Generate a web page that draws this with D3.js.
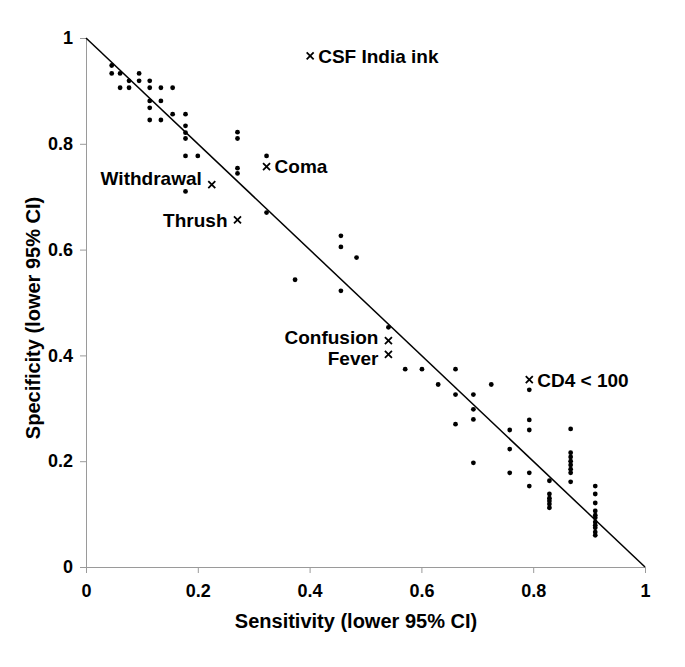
<!DOCTYPE html>
<html lang="en">
<head>
  <meta charset="UTF-8" />
  <title>Sensitivity vs specificity</title>
  <script src="https://d3js.org/d3.v7.min.js"></script>
  <style>
    body { margin: 0; background: #fff; font-family: "Liberation Sans", Arial, sans-serif; }
    svg { display: block; }
    .axis path, .axis line { stroke: #9a9a9a; stroke-width: 1px; }
    .axis text { font-size: 18px; font-weight: bold; fill: #000; }
    .title { font-size: 20px; font-weight: bold; }
    .lbl { font-size: 19px; font-weight: bold; }
  </style>
</head>
<body>
  <svg width="685" height="667"></svg>
  <script>
    // clinical signs (dots): sensitivity / specificity, lower 95% CI
    const dotSens = [
      0.046,
      0.046, 0.061, 0.095,
      0.077, 0.095, 0.114,
      0.061, 0.077, 0.114, 0.134, 0.155,
      0.114, 0.134,
      0.114,
      0.155, 0.178,
      0.114, 0.134,
      0.178, 0.178, 0.178,
      0.178, 0.200,
      0.178,
      0.271, 0.271, 0.271, 0.271,
      0.323, 0.323,
      0.374,
      0.456, 0.456, 0.456,
      0.484,
      0.541,
      0.571, 0.601, 0.630,
      0.661, 0.661, 0.661,
      0.693, 0.693, 0.693, 0.693,
      0.725,
      0.758, 0.758, 0.758,
      0.793, 0.793, 0.793, 0.793, 0.793,
      0.829, 0.829, 0.829, 0.829, 0.829, 0.829,
      0.867, 0.867, 0.867, 0.867, 0.867, 0.867, 0.867, 0.867,
      0.911, 0.911, 0.911, 0.911, 0.911, 0.911, 0.911, 0.911, 0.911, 0.911, 0.911
    ];
    const dotSpec = [
      0.948,
      0.933, 0.933, 0.933,
      0.919, 0.919, 0.919,
      0.906, 0.906, 0.906, 0.906, 0.906,
      0.881, 0.881,
      0.868,
      0.856, 0.856,
      0.845, 0.845,
      0.834, 0.821, 0.810,
      0.777, 0.777,
      0.710,
      0.822, 0.810, 0.754, 0.744,
      0.777, 0.670,
      0.543,
      0.626, 0.605, 0.522,
      0.585,
      0.453,
      0.374, 0.374, 0.345,
      0.374, 0.326, 0.270,
      0.326, 0.298, 0.279, 0.197,
      0.345,
      0.259, 0.223, 0.178,
      0.335, 0.278, 0.259, 0.178, 0.153,
      0.163, 0.138, 0.130, 0.125, 0.119, 0.112,
      0.261, 0.216, 0.208, 0.200, 0.193, 0.185, 0.178, 0.161,
      0.153, 0.138, 0.121, 0.106, 0.098, 0.093, 0.085, 0.079, 0.074, 0.066, 0.060
    ];

    // named signs (crosses)
    const signNames = ["CSF India ink", "Coma", "Withdrawal", "Thrush", "Confusion", "Fever", "CD4 < 100"];
    const signSens  = [0.401, 0.323, 0.225, 0.271, 0.541, 0.541, 0.793];
    const signSpec  = [0.966, 0.757, 0.723, 0.656, 0.428, 0.402, 0.354];

    const ticks = [0, 0.2, 0.4, 0.6, 0.8, 1];

    const svg = d3.select("svg");
    const x = d3.scaleLinear().domain([0, 1]).range([86, 645]);
    const y = d3.scaleLinear().domain([0, 1]).range([567, 38]);
    const fmt = d => d === 0 || d === 1 ? String(d) : d.toFixed(1);

    // axes
    const xAxis = svg.append("g").attr("class", "axis")
      .attr("transform", `translate(0,${y(0)})`)
      .call(d3.axisBottom(x).tickValues(ticks).tickFormat(fmt).tickSize(6).tickSizeOuter(0));
    xAxis.selectAll("text").attr("dy", "1.15em");

    const yAxis = svg.append("g").attr("class", "axis")
      .attr("transform", `translate(${x(0)},0)`)
      .call(d3.axisLeft(y).tickValues(ticks).tickFormat(fmt).tickSize(6).tickSizeOuter(0));
    yAxis.selectAll("text").attr("x", -13);

    // axis titles
    svg.append("text").attr("class", "title")
      .attr("x", 356).attr("y", 628).attr("text-anchor", "middle")
      .text("Sensitivity (lower 95% CI)");
    svg.append("text").attr("class", "title")
      .attr("transform", "translate(40,318) rotate(-90)").attr("text-anchor", "middle")
      .text("Specificity (lower 95% CI)");

    // reference line: sensitivity + specificity = 1
    svg.append("line")
      .attr("x1", x(0)).attr("y1", y(1))
      .attr("x2", x(1)).attr("y2", y(0))
      .attr("stroke", "#000").attr("stroke-width", 1.5);

    // dots
    svg.append("g").selectAll("circle")
      .data(dotSens.map((s, i) => [s, dotSpec[i]]))
      .join("circle")
      .attr("cx", d => x(d[0])).attr("cy", d => y(d[1]))
      .attr("r", 2.4).attr("fill", "#000");

    // crosses with labels
    const signs = signNames.map((n, i) => ({ name: n, s: signSens[i], p: signSpec[i] }));
    const leftSide = new Set(["Withdrawal", "Thrush", "Confusion", "Fever"]);
    const labelDy = { "Withdrawal": "0.05em", "Confusion": "0.2em", "Fever": "0.58em" };
    const g = svg.append("g").selectAll("g").data(signs).join("g")
      .attr("transform", d => `translate(${x(d.s)},${y(d.p)})`);
    g.append("path")
      .attr("d", "M-3.5,-3.5L3.5,3.5M-3.5,3.5L3.5,-3.5")
      .attr("stroke", "#000").attr("stroke-width", 1.8);
    g.append("text").attr("class", "lbl")
      .attr("x", d => leftSide.has(d.name) ? -10 : 8)
      .attr("dy", d => labelDy[d.name] || "0.36em")
      .attr("text-anchor", d => leftSide.has(d.name) ? "end" : "start")
      .text(d => d.name);
  </script>
</body>
</html>
